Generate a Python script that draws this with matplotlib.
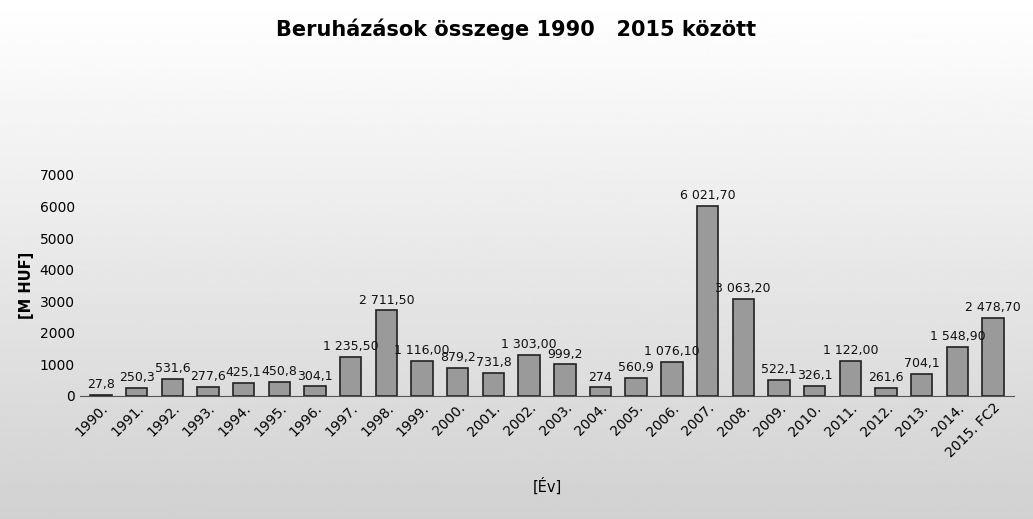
import numpy as np
import matplotlib.pyplot as plt

years = ['1990.', '1991.', '1992.', '1993.', '1994.', '1995.', '1996.', '1997.', '1998.',
         '1999.', '2000.', '2001.', '2002.', '2003.', '2004.', '2005.', '2006.', '2007.',
         '2008.', '2009.', '2010.', '2011.', '2012.', '2013.', '2014.', '2015. FC2']
values = [27.8, 250.3, 531.6, 277.6, 425.1, 450.8, 304.1, 1235.5, 2711.5,
          1116.0, 879.2, 731.8, 1303.0, 999.2, 274, 560.9, 1076.1, 6021.7,
          3063.2, 522.1, 326.1, 1122.0, 261.6, 704.1, 1548.9, 2478.7]
labels = ['27,8', '250,3', '531,6', '277,6', '425,1', '450,8', '304,1', '1 235,50', '2 711,50',
          '1 116,00', '879,2', '731,8', '1 303,00', '999,2', '274', '560,9', '1 076,10', '6 021,70',
          '3 063,20', '522,1', '326,1', '1 122,00', '261,6', '704,1', '1 548,90', '2 478,70']

fig = plt.figure(figsize=(10.33, 5.19), dpi=100)

# grey gradient background
bg = fig.add_axes([0, 0, 1, 1], zorder=-1)
grad = np.linspace(1.0, 0.82, 256).reshape(-1, 1)
bg.imshow(grad, cmap='gray', vmin=0, vmax=1, aspect='auto', extent=[0, 1, 0, 1])
bg.axis('off')

ax = fig.add_axes([0.077, 0.237, 0.905, 0.426])
ax.patch.set_alpha(0)
x = np.arange(len(years))
ax.bar(x, values, width=0.6, color='#9a9a9a', edgecolor='#222222', linewidth=1.2)
for xi, v, lab in zip(x, values, labels):
    ax.text(xi, v + 120, lab, ha='center', va='bottom', fontsize=9, color='#111111')

ax.set_ylim(0, 7000)
ax.set_yticks(range(0, 7001, 1000))
ax.set_xlim(-0.6, len(years) - 0.4)
ax.set_xticks(x)
ax.set_xticklabels(years, rotation=45, ha='right', rotation_mode='anchor', fontsize=10)
ax.tick_params(axis='y', labelsize=10, length=0)
ax.tick_params(axis='x', length=0)
for s in ['top', 'right', 'left']:
    ax.spines[s].set_visible(False)
ax.spines['bottom'].set_color('#555555')

ax.set_ylabel('[M HUF]', fontsize=10.5, fontweight='bold')
ax.set_xlabel('[Év]', fontsize=10.5, labelpad=12)
fig.suptitle('Beruházások összege 1990   2015 között', y=0.965, fontsize=15, fontweight='bold')

fig.savefig('out.png', dpi=100)
